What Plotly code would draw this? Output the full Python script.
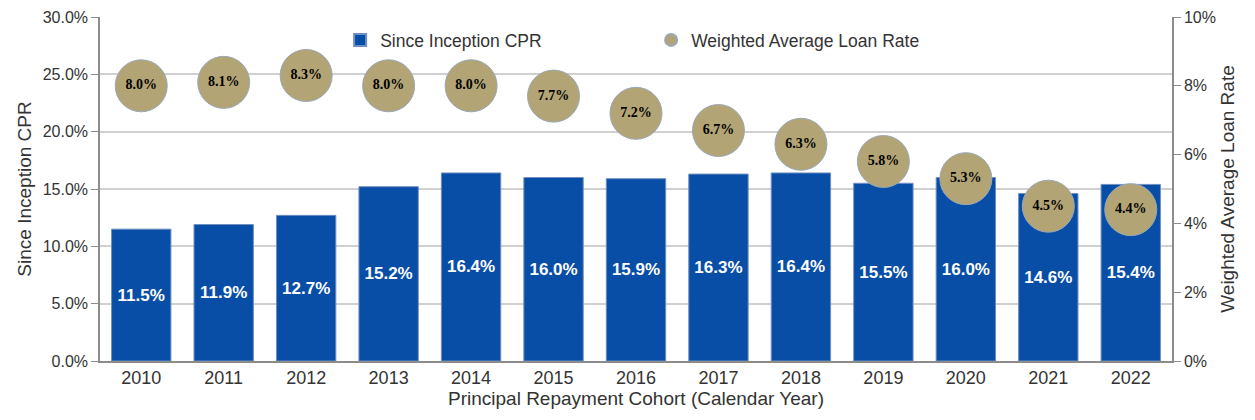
import plotly.graph_objects as go

years = ["2010", "2011", "2012", "2013", "2014", "2015", "2016", "2017", "2018", "2019", "2020", "2021", "2022"]
cpr = [11.5, 11.9, 12.7, 15.2, 16.4, 16.0, 15.9, 16.3, 16.4, 15.5, 16.0, 14.6, 15.4]
loan_rate = [8.0, 8.1, 8.3, 8.0, 8.0, 7.7, 7.2, 6.7, 6.3, 5.8, 5.3, 4.5, 4.4]

left_ticks = [0, 5, 10, 15, 20, 25, 30]
right_ticks = [0, 2, 4, 6, 8, 10]

BAR = "#084EA6"
GOLD = "#B3A475"
AX = "#8C8C8C"
TXT = "#333333"
FONT = "Liberation Sans, Arial, sans-serif"

fig = go.Figure()
fig.add_trace(go.Bar(
    x=years, y=cpr, name="Since Inception CPR",
    marker=dict(color=BAR, line=dict(color="#6f8fc0", width=1)),
    text=[f"{v:.1f}%" for v in cpr], textposition="inside", insidetextanchor="middle",
    textfont=dict(color="white", size=17, family=FONT, weight="bold"),
    textangle=0, yaxis="y",
))
fig.add_trace(go.Scatter(
    x=years, y=loan_rate, name="Weighted Average Loan Rate", mode="markers+text",
    marker=dict(color=GOLD, size=52, line=dict(color="#98a8b8", width=1)),
    text=[f"{v:.1f}%" for v in loan_rate], textposition="middle center",
    textfont=dict(color="black", size=14, family="Liberation Serif, Times New Roman, serif", weight="bold"),
    yaxis="y2",
))

fig.update_layout(
    width=1247, height=412,
    margin=dict(l=92, r=83, t=9, b=59, autoexpand=False),
    paper_bgcolor="white", plot_bgcolor="white",
    font=dict(family=FONT, color=TXT, size=16),
    bargap=0.28,
    showlegend=True,
    legend=dict(orientation="h", x=0.224, y=0.933, xanchor="left", yanchor="middle",
                font=dict(size=17.5, color=TXT), bgcolor="rgba(0,0,0,0)",
                itemsizing="constant", entrywidth=266, itemwidth=30),
    xaxis=dict(range=[-0.5, 12.5], showline=True, linecolor=AX, linewidth=1.5, ticks="",
               tickfont=dict(size=18), automargin=False,
               title=dict(text="Principal Repayment Cohort (Calendar Year)", font=dict(size=19), standoff=2)),
    yaxis=dict(range=[0, 30], tickvals=left_ticks, ticktext=[f"{v:.1f}%" for v in left_ticks],
               showline=True, linecolor=AX, linewidth=1.5, ticks="outside", ticklen=7, tickcolor=AX,
               showgrid=True, gridcolor="#d0d0d0", gridwidth=1.5, zeroline=False,
               tickfont=dict(size=16), automargin=False,
               title=dict(text="Since Inception CPR", font=dict(size=19), standoff=6)),
    yaxis2=dict(range=[0, 10], tickvals=right_ticks, ticktext=[f"{v}%" for v in right_ticks],
                overlaying="y", side="right", showline=True, linecolor=AX, linewidth=1.5,
                ticks="outside", ticklen=7, tickcolor=AX, showgrid=False, zeroline=False,
                tickfont=dict(size=16), automargin=False,
                title=dict(text="Weighted Average Loan Rate", font=dict(size=19), standoff=6)),
)

fig.write_html("out.html")
